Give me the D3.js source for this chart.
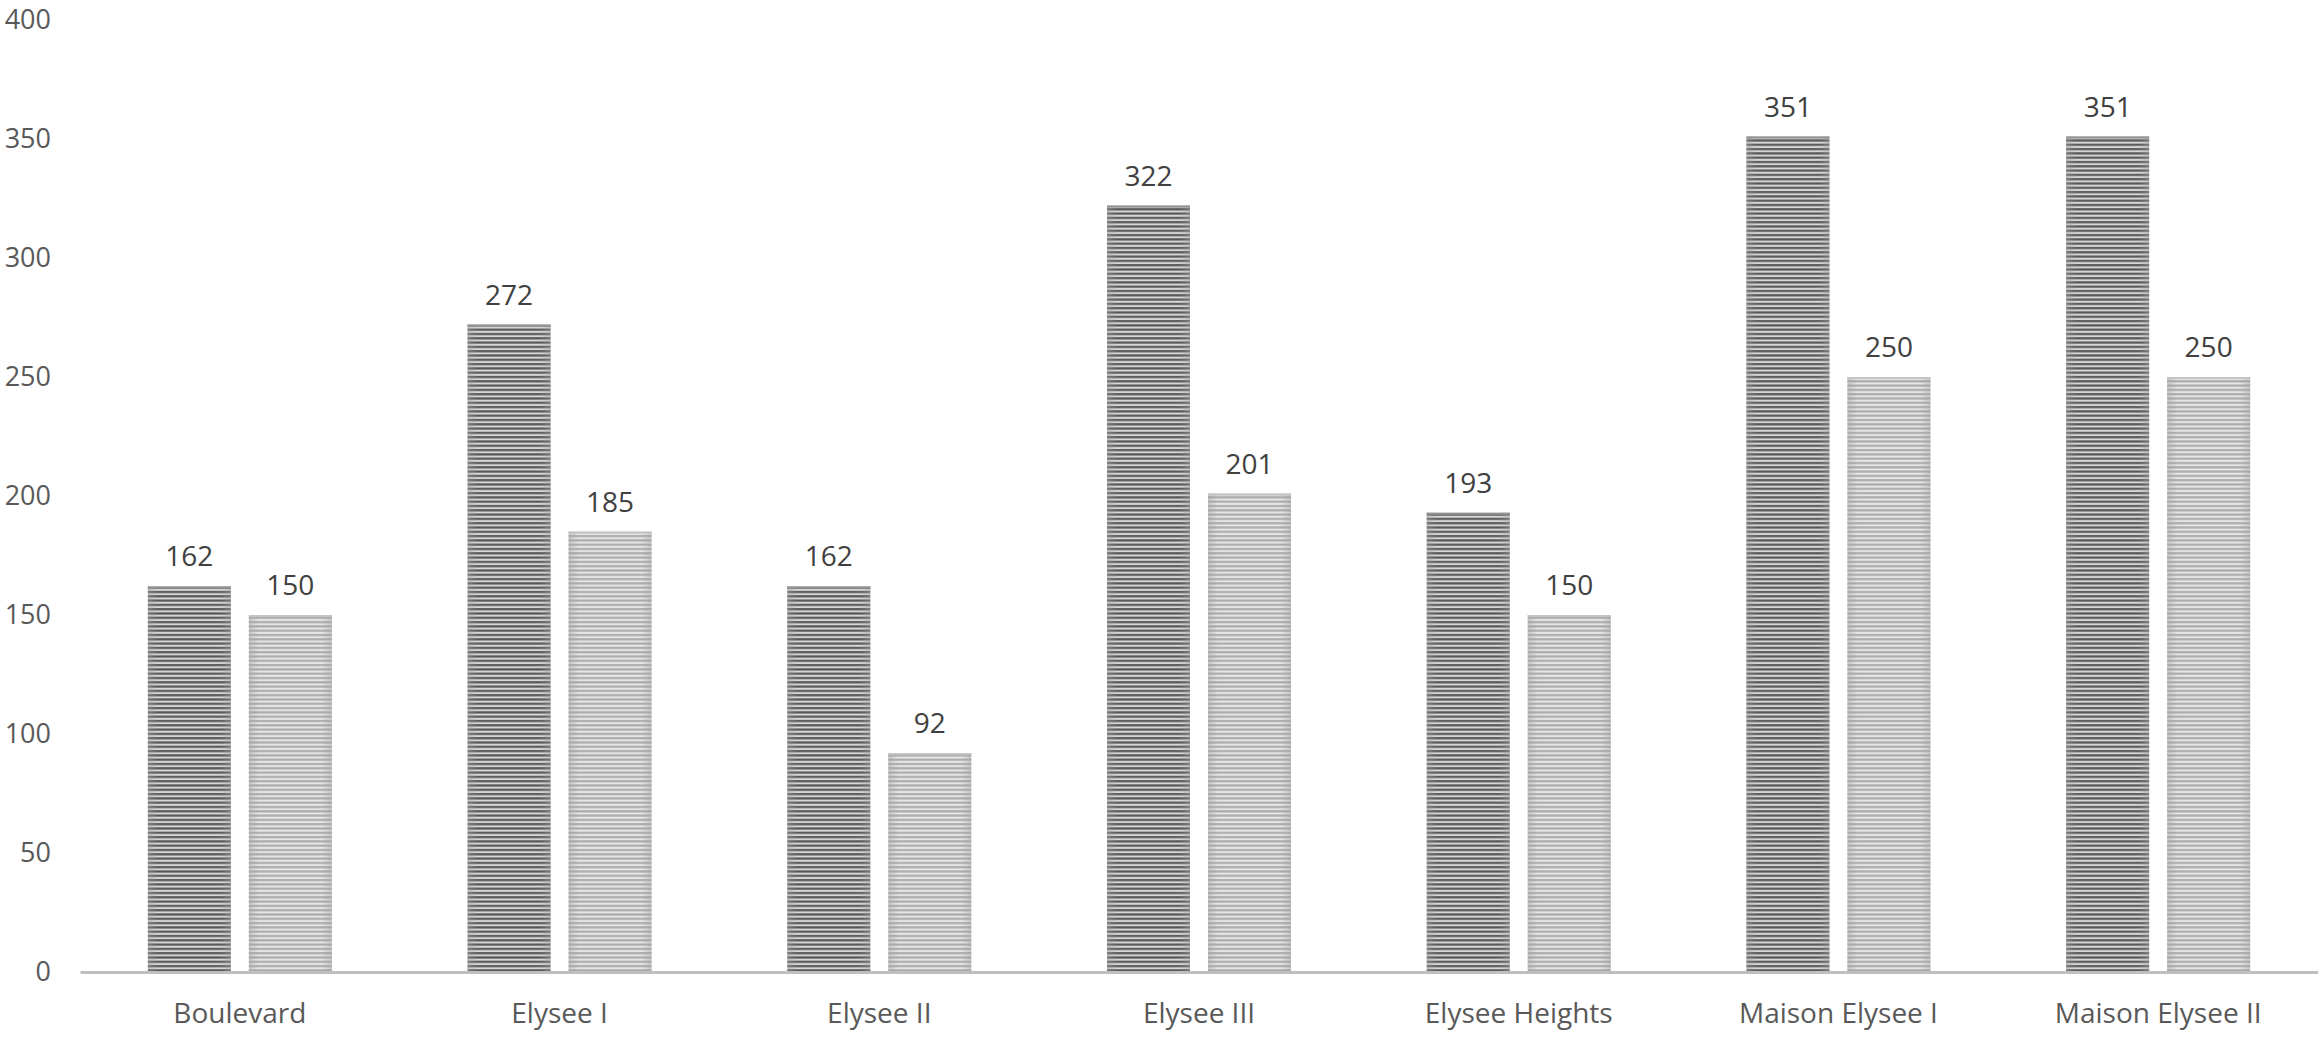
<!DOCTYPE html>
<html>
<head>
    <meta charset="UTF-8">
    <title>Units by Building</title>
    <script src="https://d3js.org/d3.v7.min.js"></script>
    <style>
        body {
            margin: 0;
            padding: 0;
            background: #fff;
        }
        svg text {
            font-family: "Open Sans", "Noto Sans", sans-serif;
        }
        .tick text {
            fill: #595959;
            font-size: 27px;
        }
        .x-axis .tick text {
            font-size: 28px;
        }
        .value-label {
            fill: #404040;
            font-size: 28px;
        }
    </style>
</head>
<body>
    <svg id="chart" width="2318" height="1037"></svg>

    <script>
        const categories = ["Boulevard", "Elysee I", "Elysee II", "Elysee III", "Elysee Heights", "Maison Elysee I", "Maison Elysee II"];
        const seriesA = [162, 272, 162, 322, 193, 351, 351];
        const seriesB = [150, 185, 92, 201, 150, 250, 250];
        const yTicks = [0, 50, 100, 150, 200, 250, 300, 350, 400];

        const svgWidth = 2318, svgHeight = 1037;
        const margin = { top: 20, right: 0, bottom: 65, left: 80 };

        const svg = d3.select("#chart");

        // striped fills like the excel pattern
        const defs = svg.append("defs");
        const fills = [
            { id: "stripeDark", dark: "#585858", light: "#d6d6d6", top: "#959595" },
            { id: "stripeLight", dark: "#acacac", light: "#e6e6e6", top: "#c4c4c4" }
        ];
        fills.forEach(f => {
            const p = defs.append("pattern")
                .attr("id", f.id)
                .attr("patternUnits", "userSpaceOnUse")
                .attr("width", 8)
                .attr("height", 4.3);
            p.append("rect").attr("width", 8).attr("height", 4.3).attr("fill", f.light);
            p.append("rect").attr("y", 1.8).attr("width", 8).attr("height", 2.2).attr("fill", f.dark);
        });

        const edge = defs.append("linearGradient").attr("id", "edgeShade");
        [[0, 0.45], [0.12, 0], [0.88, 0], [1, 0.45]].forEach(([o, a]) => {
            edge.append("stop").attr("offset", o).attr("stop-color", "#a0a0a0").attr("stop-opacity", a);
        });

        const x0 = d3.scaleBand()
            .domain(categories)
            .range([margin.left, svgWidth - margin.right])
            .paddingInner(0.4245)
            .paddingOuter(0.21225);

        const x1 = d3.scaleBand()
            .domain([0, 1])
            .range([0, x0.bandwidth()])
            .paddingInner(0.178);

        const y = d3.scaleLinear()
            .domain([0, 400])
            .range([svgHeight - margin.bottom, margin.top]);

        const data = categories.map((c, i) => ({ category: c, values: [seriesA[i], seriesB[i]] }));

        // y axis labels only
        svg.append("g")
            .attr("transform", "translate(51,0)")
            .call(d3.axisLeft(y).tickValues(yTicks).tickSize(0).tickPadding(0))
            .call(g => g.select(".domain").remove());

        const groups = svg.selectAll(".grp")
            .data(data)
            .enter()
            .append("g")
            .attr("class", "grp")
            .attr("transform", d => `translate(${x0(d.category)},0)`);

        const bars = groups.selectAll(".bar")
            .data(d => d.values.map((v, k) => ({ k, v })))
            .enter();

        bars.append("rect")
            .attr("class", "bar")
            .attr("x", d => x1(d.k))
            .attr("y", d => y(d.v))
            .attr("width", x1.bandwidth())
            .attr("height", d => y(0) - y(d.v))
            .attr("fill", d => `url(#${fills[d.k].id})`);

        bars.append("rect")
            .attr("x", d => x1(d.k))
            .attr("y", d => y(d.v))
            .attr("width", x1.bandwidth())
            .attr("height", d => y(0) - y(d.v))
            .attr("fill", "url(#edgeShade)");

        bars.append("rect")
            .attr("x", d => x1(d.k))
            .attr("y", d => y(d.v))
            .attr("width", x1.bandwidth())
            .attr("height", 2)
            .attr("fill", d => fills[d.k].top);

        bars.append("text")
            .attr("class", "value-label")
            .attr("x", d => x1(d.k) + x1.bandwidth() / 2)
            .attr("y", d => y(d.v) - 20)
            .attr("text-anchor", "middle")
            .text(d => d.v);

        // x axis
        const xAxis = svg.append("g")
            .attr("class", "x-axis")
            .attr("transform", `translate(0,${y(0)})`)
            .call(d3.axisBottom(x0).tickSize(0).tickSizeOuter(0).tickPadding(31));
        xAxis.select(".domain")
            .attr("stroke", "#bfbfbf")
            .attr("stroke-width", 3);
    </script>
</body>
</html>
